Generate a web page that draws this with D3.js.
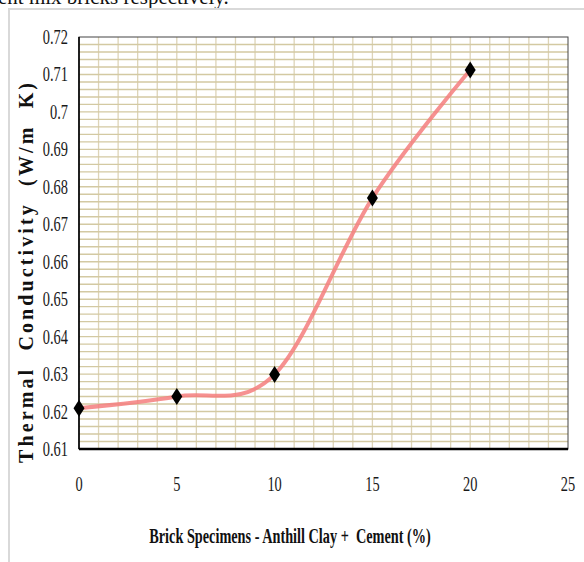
<!DOCTYPE html>
<html>
<head>
<meta charset="utf-8">
<script src="https://cdn.jsdelivr.net/npm/d3@7"></script>
<style>
  body { margin: 0; background: #fff; }
  svg { display: block; }
  text { font-family: "Liberation Serif", "Times New Roman", serif; }
</style>
</head>
<body>
<div id="chart"></div>
<script>
// cement content (%) and measured conductivity
const mixes = [0, 5, 10, 15, 20];
const conductivity = [0.6209, 0.624, 0.6299, 0.6770, 0.7112];
const xTicks = [0, 5, 10, 15, 20, 25];
const yTicks = [0.61, 0.62, 0.63, 0.64, 0.65, 0.66, 0.67, 0.68, 0.69, 0.7, 0.71, 0.72];
const yTickLabels = ['0.61', '0.62', '0.63', '0.64', '0.65', '0.66', '0.67', '0.68', '0.69', '0.7', '0.71', '0.72'];

const width = 584, height = 562;
const plot = { left: 79, right: 568, top: 37, bottom: 449 };

const svg = d3.select('#chart').append('svg')
  .attr('width', width)
  .attr('height', height);

// bit of the page text above the figure
svg.append('text')
  .attr('x', -2).attr('y', 4)
  .style('font-size', '21px')
  .attr('fill', '#111')
  .text('ent mix bricks respectively.');

// light frame around the figure
svg.append('rect')
  .attr('x', 9).attr('y', 9)
  .attr('width', 600).attr('height', 600)
  .attr('fill', 'none')
  .attr('stroke', '#d9d9d9')
  .attr('stroke-width', 2);

const x = d3.scaleLinear().domain([0, 25]).range([plot.left, plot.right]);
const y = d3.scaleLinear().domain([0.61, 0.72]).range([plot.bottom, plot.top]);

// grid
const grid = svg.append('g');
grid.selectAll('.vg')
  .data(d3.range(1, 25))
  .enter().append('line')
  .attr('x1', d => x(d)).attr('x2', d => x(d))
  .attr('y1', plot.top).attr('y2', plot.bottom)
  .attr('stroke', '#ddd4b8')
  .attr('stroke-width', 1.3);
grid.selectAll('.hg')
  .data(d3.range(1, 55).map(i => 0.61 + i * 0.002))
  .enter().append('line')
  .attr('x1', plot.left).attr('x2', plot.right)
  .attr('y1', d => y(d)).attr('y2', d => y(d))
  .attr('stroke', '#d3c9a2')
  .attr('stroke-width', 1.4);

// plot border
svg.append('rect')
  .attr('x', plot.left).attr('y', plot.top)
  .attr('width', plot.right - plot.left).attr('height', plot.bottom - plot.top)
  .attr('fill', 'none')
  .attr('stroke', '#444')
  .attr('stroke-width', 1);
svg.append('line')
  .attr('x1', plot.left).attr('x2', plot.left)
  .attr('y1', plot.top).attr('y2', plot.bottom)
  .attr('stroke', '#000').attr('stroke-width', 1.6);
svg.append('line')
  .attr('x1', plot.left).attr('x2', plot.right)
  .attr('y1', plot.bottom).attr('y2', plot.bottom)
  .attr('stroke', '#000').attr('stroke-width', 2.6);

// y tick labels (narrow serif)
svg.selectAll('.ylab')
  .data(yTicks)
  .enter().append('text')
  .attr('transform', d => `translate(68,${y(d) + 7}) scale(0.72,1)`)
  .attr('text-anchor', 'end')
  .style('font-size', '20px')
  .attr('fill', '#1a1a1a')
  .text((d, i) => yTickLabels[i]);

// x tick labels
svg.selectAll('.xlab')
  .data(xTicks)
  .enter().append('text')
  .attr('transform', d => `translate(${x(d)},491) scale(0.72,1)`)
  .attr('text-anchor', 'middle')
  .style('font-size', '20px')
  .attr('fill', '#1a1a1a')
  .text(d => d);

// axis titles
svg.append('text')
  .attr('transform', 'translate(290,543) scale(0.68,1)')
  .attr('text-anchor', 'middle')
  .style('font-size', '21px')
  .style('font-weight', 'bold')
  .style('white-space', 'pre')
  .attr('fill', '#111')
  .text('Brick Specimens - Anthill Clay +  Cement (%)');

svg.append('text')
  .attr('transform', 'translate(33,273) rotate(-90)')
  .attr('text-anchor', 'middle')
  .attr('textLength', 380)
  .attr('lengthAdjust', 'spacing')
  .style('font-size', '20px')
  .style('font-weight', 'bold')
  .style('white-space', 'pre')
  .attr('fill', '#111')
  .text('Thermal  Conductivity  (W/m  K)');

// smoothed line
const pts = mixes.map((m, i) => [m, conductivity[i]]);
const line = d3.line()
  .x(d => x(d[0]))
  .y(d => y(d[1]))
  .curve(d3.curveCardinal.tension(0));

svg.append('path')
  .datum(pts)
  .attr('d', line)
  .attr('fill', 'none')
  .attr('stroke', '#f47e7e')
  .attr('stroke-opacity', 0.85)
  .attr('stroke-width', 4);

// diamond markers
svg.selectAll('.mk')
  .data(pts)
  .enter().append('path')
  .attr('transform', d => `translate(${x(d[0])},${y(d[1])})`)
  .attr('d', 'M0,-8.5L5.5,0L0,8.5L-5.5,0Z')
  .attr('fill', '#000');
</script>
</body>
</html>
